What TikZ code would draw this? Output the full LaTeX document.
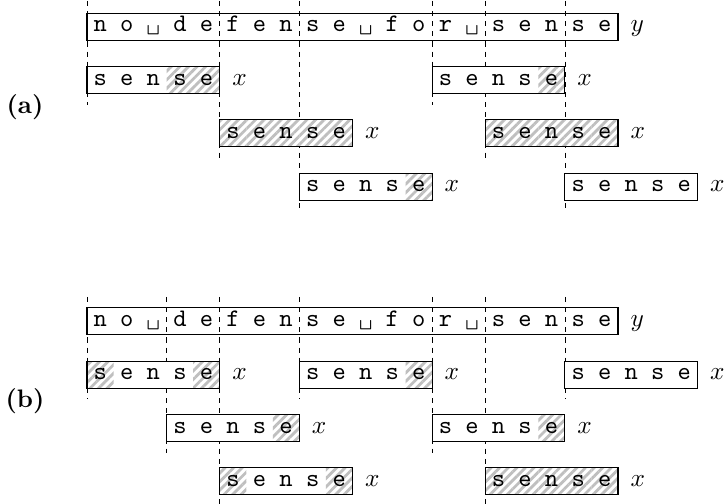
\documentclass[tikz,border=0pt]{standalone}
\usetikzlibrary{patterns.meta}

\tikzset{
  guide/.style={black, very thin, dash pattern=on 2pt off 2pt},
  boxline/.style={black, thin},
  hatch/.style={pattern={Lines[angle=45, distance=2.4pt, line width=1.1pt]}, pattern color=black!25},
  cell/.style={font=\ttfamily, anchor=base, inner sep=0pt},
  lbl/.style={anchor=base west, inner sep=0pt},
  panel/.style={font=\bfseries, anchor=center, inner sep=0pt}
}

% one "sense" box: #1 first cell, #2 top, #3 hatched cells, #4 name
\newcommand\sensebox[4]{
  \fill[white] ({87+26.55*#1},#2) rectangle ({87+26.55*(#1+5)},#2+27);
  \foreach \h in {#3}
    \fill[hatch] ({87+26.55*(#1+\h)},#2) rectangle ({87+26.55*(#1+\h+1)},#2+27);
  \draw[boxline] ({87+26.55*#1},#2) rectangle ({87+26.55*(#1+5)},#2+27);
  \foreach \l [count=\i from 0] in {s,e,n,s,e}
    \node[cell] at ({87+26.55*(#1+\i)+13.27},#2+18.7) {\l};
  \node[lbl] (#4) at ({87+26.55*(#1+5)+12},#2+18.7) {$x$};
}

% the text y: #1 top
\newcommand\textrow[1]{
  \draw[boxline] (87,#1) rectangle ({87+26.55*20},#1+27);
  \foreach \l [count=\i from 0] in {n,o,\textvisiblespace,d,e,f,e,n,s,e,\textvisiblespace,f,o,r,\textvisiblespace,s,e,n,s,e}
    \node[cell] at ({87+26.55*\i+13.27},#1+18.7) {\l};
}

\begin{document}
\begin{tikzpicture}[x=0.3955pt, y=-0.3955pt]
\useasboundingbox (0,0) rectangle (724,504);

% (a)
\foreach \c/\r in {0/1, 5/2, 8/3, 13/1, 15/2, 18/3}
  \draw[guide] ({87+26.55*\c},1) -- ({87+26.55*\c},{13.3+53.3*\r+38});
\textrow{13.3}
\node[lbl] (ya) at ({87+26.55*20+12},32) {$y$};
\sensebox{0}{66.6}{3,4}{xa1}
\sensebox{13}{66.6}{4}{xa2}
\sensebox{5}{119.9}{0,1,2,3,4}{xa3}
\sensebox{15}{119.9}{0,1,2,3,4}{xa4}
\sensebox{8}{173.2}{4}{xa5}
\sensebox{18}{173.2}{}{xa6}
\node[panel] (pa) at (25,106.7) {(a)};

% (b)
\foreach \c/\r in {0/1, 3/2, 5/3, 8/1, 13/2, 15/3, 18/1}
  \draw[guide] ({87+26.55*\c},297) -- ({87+26.55*\c},{308+53.3*\r+38});
\textrow{308}
\node[lbl] (yb) at ({87+26.55*20+12},326.7) {$y$};
\sensebox{0}{361.3}{0,4}{xb1}
\sensebox{8}{361.3}{4}{xb2}
\sensebox{18}{361.3}{}{xb3}
\sensebox{3}{414.6}{4}{xb4}
\sensebox{13}{414.6}{4}{xb5}
\sensebox{5}{467.9}{0,4}{xb6}
\sensebox{15}{467.9}{0,1,2,3,4}{xb7}
\node[panel] (pb) at (25,401.5) {(b)};

\end{tikzpicture}
\end{document}
